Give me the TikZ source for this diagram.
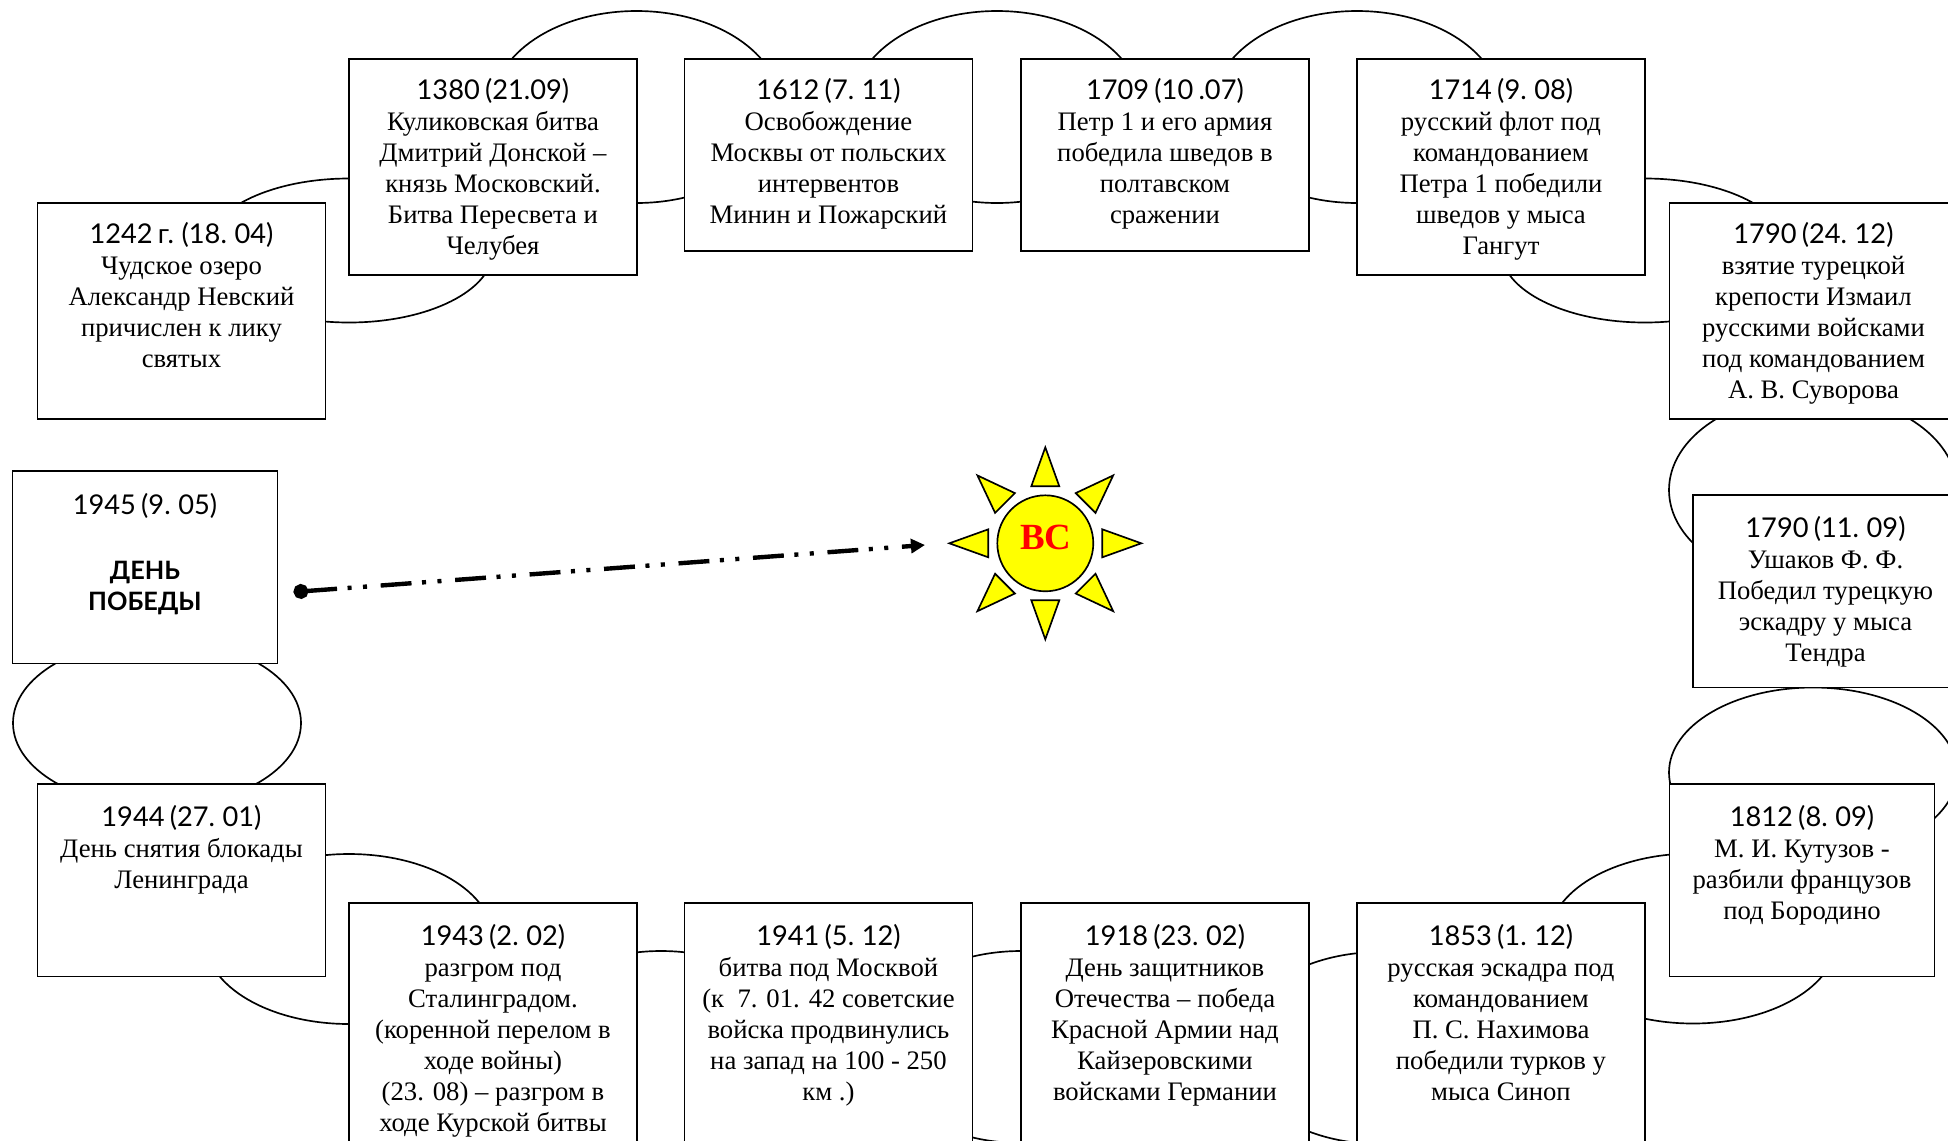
\documentclass[tikz,border=0pt]{standalone}
\usepackage{fontspec}
\setmainfont{Liberation Serif}
\newfontfamily\yearfont[WordSpace=.75]{Lato}
\usetikzlibrary{arrows.meta}
\usetikzlibrary{positioning}

\definecolor{sunyellow}{RGB}{255,255,0}
\definecolor{sunred}{RGB}{255,0,0}
\tikzset{
  eventbox/.style={draw, fill=white, line width=1.05pt, anchor=north west, inner sep=0pt, outer sep=0pt, minimum width=5.76cm},
  eventtext/.style={align=center, inner sep=0pt, font=\fontsize{15.2}{17.6}\selectfont},
  linkring/.style={line width=.95pt},
  sunray/.style={draw, fill=sunyellow, line width=.95pt, line join=miter}
}
\newcommand{\yr}[1]{{\yearfont\fontsize{15.5}{17.6}\selectfont #1}}

\begin{document}
\begin{tikzpicture}[x=.02cm, y=-.02cm]

        \def\textgap{.39cm}
        \def\textgaplow{.42cm}

        \clip (0,0) rectangle (1948,1140);
        \fill[white] (0,0) rectangle (1948,1140);

        % rings behind the boxes
        \draw[linkring] (349,250.5) ellipse [x radius=144, y radius=72];
        \draw[linkring] (636.5,107) ellipse [x radius=144, y radius=96];
        \draw[linkring] (997,107) ellipse [x radius=144, y radius=96];
        \draw[linkring] (1357,107) ellipse [x radius=144, y radius=96];
        \draw[linkring] (1645,250.5) ellipse [x radius=144, y radius=72];
        \draw[linkring] (1813,490) ellipse [x radius=144, y radius=96];
        \draw[linkring] (1813,772.5) ellipse [x radius=144, y radius=85];
        \draw[linkring] (1693,938.5) ellipse [x radius=144, y radius=85];
        \draw[linkring] (1380,1048) ellipse [x radius=144, y radius=96];
        \draw[linkring] (1021,1047) ellipse [x radius=144, y radius=96];
        \draw[linkring] (661,1047) ellipse [x radius=144, y radius=96];
        \draw[linkring] (349,939) ellipse [x radius=144, y radius=85];
        \draw[linkring] (157,723) ellipse [x radius=144, y radius=84];

        % top row
        \node[eventbox, minimum height=4.32cm] (b1242) at (37.5,202.7) {};
        \node[eventtext, below=\textgap of b1242.north] (t1242) {\yr{1242 г. (18. 04)}\\Чудское озеро\\Александр Невский\\причислен к лику\\святых};
        \node[eventbox, minimum height=4.32cm] (b1380) at (349,58.7) {};
        \node[eventtext, below=\textgap of b1380.north] (t1380) {\yr{1380 (21.09)}\\Куликовская битва\\Дмитрий Донской –\\князь Московский.\\Битва Пересвета и\\Челубея};
        \node[eventbox, minimum height=3.85cm] (b1612) at (684.5,58.7) {};
        \node[eventtext, below=\textgap of b1612.north] (t1612) {\yr{1612 (7. 11)}\\Освобождение\\Москвы от польских\\интервентов\\Минин и Пожарский};
        \node[eventbox, minimum height=3.85cm] (b1709) at (1021,58.7) {};
        \node[eventtext, below=\textgap of b1709.north] (t1709) {\yr{1709 (10 .07)}\\Петр 1 и его армия\\победила шведов в\\полтавском\\сражении};
        \node[eventbox, minimum height=4.32cm] (b1714) at (1357,58.7) {};
        \node[eventtext, below=\textgap of b1714.north] (t1714) {\yr{1714 (9. 08)}\\русский флот под\\командованием\\Петра 1 победили\\шведов у мыса\\Гангут};

        % right column
        \node[eventbox, minimum height=4.32cm] (b1790a) at (1669.5,202.7) {};
        \node[eventtext, below=\textgap of b1790a.north] (t1790a) {\yr{1790 (24. 12)}\\взятие турецкой\\крепости Измаил\\русскими войсками\\под командованием\\А. В. Суворова};
        \node[eventbox, minimum width=5.3cm, minimum height=3.85cm] (b1790b) at (1693,495) {};
        \node[eventtext, below=\textgaplow of b1790b.north] (t1790b) {\yr{1790 (11. 09)}\\Ушаков Ф. Ф.\\Победил турецкую\\эскадру у мыса\\Тендра};
        \node[eventbox, minimum width=5.3cm, minimum height=3.85cm] (b1812) at (1669.5,784) {};
        \node[eventtext, below=\textgaplow of b1812.north] (t1812) {\yr{1812 (8. 09)}\\М. И. Кутузов -\\разбили французов\\под Бородино};

        % bottom row
        \node[eventbox, minimum height=5.4cm] (b1853) at (1357,903) {};
        \node[eventtext, below=\textgaplow of b1853.north] (t1853) {\yr{1853 (1. 12)}\\русская эскадра под\\командованием\\П. С. Нахимова\\победили турков у\\мыса Синоп};
        \node[eventbox, minimum height=5.4cm] (b1918) at (1021,903) {};
        \node[eventtext, below=\textgaplow of b1918.north] (t1918) {\yr{1918 (23. 02)}\\День защитников\\Отечества – победа\\Красной Армии над\\Кайзеровскими\\войсками Германии};
        \node[eventbox, minimum height=5.4cm] (b1941) at (684.5,903) {};
        \node[eventtext, below=\textgaplow of b1941.north] (t1941) {\yr{1941 (5. 12)}\\битва под Москвой\\(к\ \ 7. 01. 42 советские\\войска продвинулись\\на запад на 100 - 250\\км .)};
        \node[eventbox, minimum height=5.4cm] (b1943) at (349,903) {};
        \node[eventtext, below=\textgaplow of b1943.north] (t1943) {\yr{1943 (2. 02)}\\разгром под\\Сталинградом.\\(коренной перелом в\\ходе войны)\\(23. 08) – разгром в\\ходе Курской битвы};

        % left column
        \node[eventbox, minimum height=3.85cm] (b1944) at (37.5,784) {};
        \node[eventtext, below=\textgaplow of b1944.north] (t1944) {\yr{1944 (27. 01)}\\День снятия блокады\\Ленинграда};
        \node[eventbox, minimum width=5.3cm, minimum height=3.85cm] (b1945) at (12.5,471) {};
        \node[eventtext, below=.44cm of b1945.north] (t1945) {\yr{1945 (9. 05)}\\[1.8pt] \\{\yearfont\bfseries\fontsize{14.4}{17.6}\selectfont ДЕНЬ}\\{\yearfont\bfseries\fontsize{14.4}{17.6}\selectfont ПОБЕДЫ}};

        % sun
        \node[circle, draw, fill=sunyellow, line width=.95pt, minimum size=1.92cm, inner sep=0pt] (sun) at (1045.3,543.3) {};
        \node[text=sunred, font=\fontsize{21}{21}\selectfont\bfseries, inner sep=0pt] (sunlabel) at (1045.8,537) {ВС};
        \draw[sunray, shift={(1045.3,543.3)}] (-14,-57) -- (0,-96) -- (14,-57) -- cycle;
        \draw[sunray, shift={(1045.3,543.3)}, rotate=45] (-14,-57) -- (0,-96) -- (14,-57) -- cycle;
        \draw[sunray, shift={(1045.3,543.3)}, rotate=90] (-14,-57) -- (0,-96) -- (14,-57) -- cycle;
        \draw[sunray, shift={(1045.3,543.3)}, rotate=135] (-14,-57) -- (0,-96) -- (14,-57) -- cycle;
        \draw[sunray, shift={(1045.3,543.3)}, rotate=180] (-14,-57) -- (0,-96) -- (14,-57) -- cycle;
        \draw[sunray, shift={(1045.3,543.3)}, rotate=225] (-14,-57) -- (0,-96) -- (14,-57) -- cycle;
        \draw[sunray, shift={(1045.3,543.3)}, rotate=270] (-14,-57) -- (0,-96) -- (14,-57) -- cycle;
        \draw[sunray, shift={(1045.3,543.3)}, rotate=315] (-14,-57) -- (0,-96) -- (14,-57) -- cycle;

        % pointer from the last box towards the sun
        \coordinate (pointerstart) at (293.5,592);
        \coordinate (pointerend) at (925,545);
        \draw[line width=2.5pt, dash pattern=on 17.6pt off 6pt on 2.3pt off 6.5pt on 2.3pt off 7.8pt, {Circle[length=8.5pt]}-{Triangle[length=8pt, width=8pt]}] (pointerstart) -- (pointerend);

      \end{tikzpicture}
\end{document}
